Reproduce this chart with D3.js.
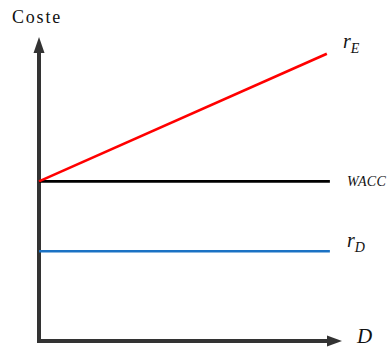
<!DOCTYPE html>
<html><head><meta charset="utf-8">
<script src="https://cdn.jsdelivr.net/npm/d3@7"></script>
<style>html,body{margin:0;padding:0;background:#fff;overflow:hidden}</style>
</head><body>
<svg id="c" width="391" height="347"></svg>
<script>
// Data (conceptual values)
const debt = [0, 9.6];            // D from origin to right end
const rE = [5.25, 9.45];          // cost of equity rises with D
const wacc = [5.25, 5.25];        // WACC constant
const rD = [2.95, 2.95];          // cost of debt constant
const seriesNames = ["r", "WACC", "r"];
const subs = ["E", "", "D"];

const svg = d3.select("#c");
const x = d3.scaleLinear().domain([0, 10]).range([39, 342]);
const y = d3.scaleLinear().domain([0, 10]).range([341, 37]);
const serif = "'Liberation Serif', 'Times New Roman', Times, 'DejaVu Serif', serif";

const axisColor = "#333";
// Axes
svg.append("line").attr("x1", x(0)).attr("x2", x(0)).attr("y1", y(0) + 2).attr("y2", y(10) + 12)
  .attr("stroke", axisColor).attr("stroke-width", 4);
svg.append("line").attr("x1", x(0) - 2).attr("x2", x(10) - 12).attr("y1", y(0)).attr("y2", y(0))
  .attr("stroke", axisColor).attr("stroke-width", 4);
svg.append("path").attr("fill", axisColor)
  .attr("d", `M${x(0)},${y(10)} L${x(0) - 5.5},${y(10) + 16} L${x(0) + 5.5},${y(10) + 16} Z`);
svg.append("path").attr("fill", axisColor)
  .attr("d", `M${x(10)},${y(0)} L${x(10) - 15},${y(0) - 5.5} L${x(10) - 15},${y(0) + 5.5} Z`);

const line = d3.line().x(d => x(d[0])).y(d => y(d[1]));
const series = [
  {vals: wacc, color: "#000", end: debt[1]},
  {vals: rD, color: "#1b72c4", end: debt[1]},
  {vals: rE, color: "#ff0000", end: 9.5}
];
series.forEach(s => {
  svg.append("path").attr("d", line([[debt[0], s.vals[0]], [s.end, s.vals[1]]]))
    .attr("fill", "none").attr("stroke", s.color).attr("stroke-width", 2.6);
});

// Labels
svg.append("text").attr("x", 12).attr("y", 23).text("Coste")
  .style("font-family", serif).attr("font-size", 18).attr("letter-spacing", 1.8).attr("fill", "#111");

function sublabel(px, py, main, sub) {
  const t = svg.append("text").attr("x", px).attr("y", py)
    .style("font-family", serif).attr("font-style", "italic").attr("fill", "#111");
  t.append("tspan").attr("font-size", 20).text(main);
  t.append("tspan").attr("font-size", 14).attr("dy", 5).text(sub);
}
sublabel(343, 48, seriesNames[0], subs[0]);
sublabel(347, 247, seriesNames[2], subs[2]);
svg.append("text").attr("x", 347).attr("y", 186).text(seriesNames[1])
  .style("font-family", serif).attr("font-style", "italic").attr("font-size", 14)
  .attr("letter-spacing", 0.3).attr("fill", "#111");
svg.append("text").attr("x", 357).attr("y", 343).text("D")
  .style("font-family", serif).attr("font-style", "italic").attr("font-size", 21).attr("fill", "#111");
</script>
</body></html>
